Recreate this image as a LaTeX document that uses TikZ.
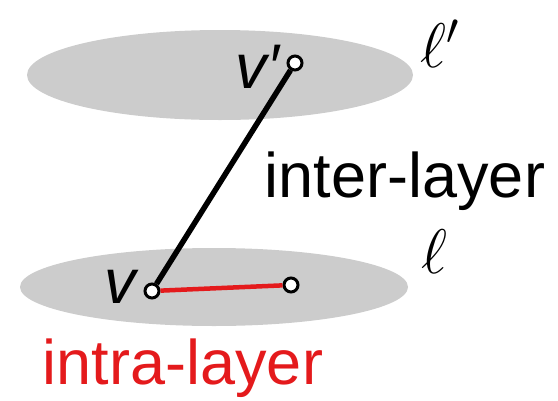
\RequirePackage{fix-cm}
\documentclass[tikz,border=0pt]{standalone}
\usepackage{fontspec}
\setmainfont{Liberation Sans}
\usepackage{tikz}
\usetikzlibrary{positioning}
\definecolor{layergray}{RGB}{204,204,204}
\definecolor{intrared}{RGB}{228,26,28}

\begin{document}
\begin{tikzpicture}[x=1pt, y=-1pt, every node/.style={font=\fontsize{63}{70}\selectfont},
  vtx/.style={circle, draw=black, fill=white, line width=3pt, minimum size=14pt, inner sep=0pt}]
  \useasboundingbox (0,0) rectangle (558,400);
  % layers
  \fill[layergray] (220,75) ellipse [x radius=193, y radius=45];
  \fill[layergray] (214,287) ellipse [x radius=194, y radius=39];
  \node (lp) at (440,44) {$\ell'$};
  \node (l) at (434,252) {$\ell$};
  % vertices
  \node[vtx] (vp) at (295,63) {};
  \node[vtx] (v) at (152,291) {};
  \node[vtx] (w) at (291,285) {};
  \draw[line width=5.5pt] (v) -- (vp);
  \draw[intrared, line width=4.5pt] (v) -- (w);
  \node[left=4pt of vp, yshift=-4pt] (vplab) {\itshape v′};
  \node[left=4pt of v, yshift=4pt] (vlab) {\itshape v};
  \node (inter) at (405,181) {inter-layer};
  \node[text=intrared] (intra) at (183,368) {intra-layer};
\end{tikzpicture}
\end{document}
